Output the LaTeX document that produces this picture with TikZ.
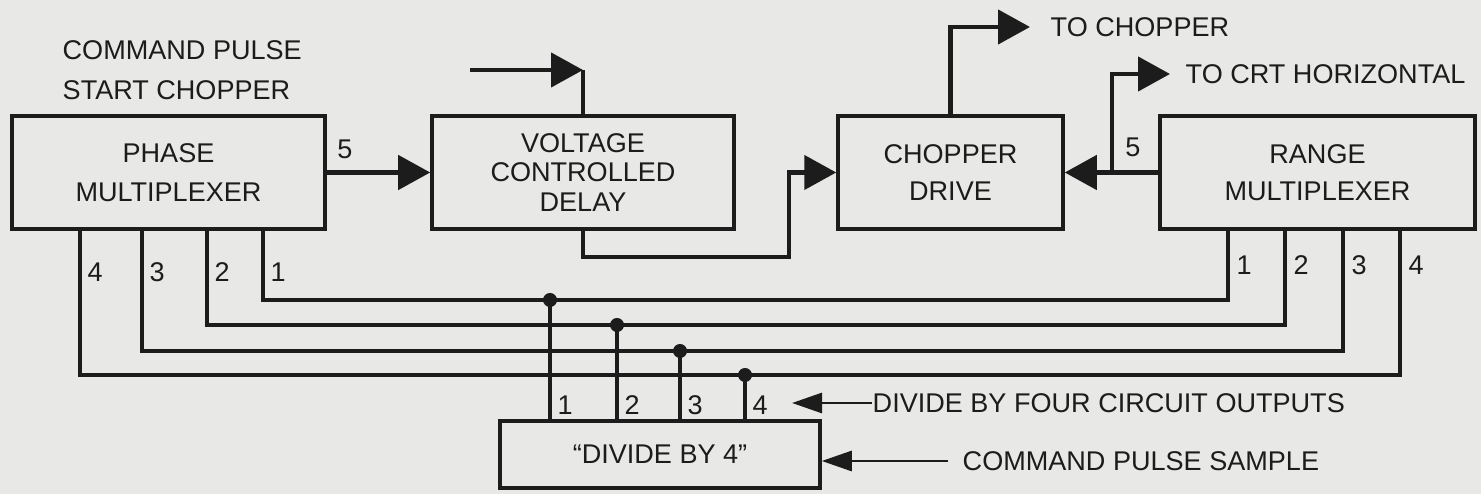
\documentclass[tikz,border=0pt]{standalone}
\usepackage{fontspec}
\setmainfont{Liberation Sans}
\usetikzlibrary{arrows.meta, positioning}

\definecolor{paper}{RGB}{232,232,230}
\definecolor{ink}{RGB}{28,28,28}

\begin{document}
\begin{tikzpicture}[
    every node/.style={font=\fontsize{7.7}{11.2}\selectfont, text=ink},
    block/.style={draw=ink, line width=1.0pt, minimum height=1.13cm, align=center, inner sep=0pt},
    wire/.style={draw=ink, line width=1.3pt},
    bigarrow/.style={wire, -{Triangle[length=0.32cm, width=0.34cm]}},
    thinarrow/.style={draw=ink, line width=0.8pt, -{Triangle[length=0.30cm, width=0.20cm]}},
    tag/.style={anchor=west, inner sep=0pt}
]
% Background
\fill[paper] (0,0) rectangle (14.81,4.94);
\useasboundingbox (0,0) rectangle (14.81,4.94);

% Blocks
\node[block, minimum width=3.13cm] (phase) at (1.685,3.215) {PHASE\\MULTIPLEXER};
\node[block, minimum width=3.02cm, font=\fontsize{7.7}{8.3}\selectfont] (vcd) at (5.83,3.215) {VOLTAGE\\CONTROLLED\\DELAY};
\node[block, minimum width=2.25cm, font=\fontsize{7.7}{10.5}\selectfont] (chop) at (9.505,3.215) {CHOPPER\\DRIVE};
\node[block, minimum width=3.15cm, font=\fontsize{7.7}{10.5}\selectfont] (range) at (13.175,3.215) {RANGE\\MULTIPLEXER};
\node[block, minimum width=3.20cm, minimum height=0.67cm] (divide) at (6.60,0.395) {“DIVIDE BY 4”};

% Top labels
\node[tag, align=left, font=\fontsize{7.7}{11.4}\selectfont] (cmdstart) at (0.62,4.24) {COMMAND PULSE\\START CHOPPER};
\node[tag] (tochop) at (10.50,4.67) {TO CHOPPER};
\node[tag] (tocrt) at (11.85,4.20) {TO CRT HORIZONTAL};
\node (fivea) at (3.45,3.45) {5};
\node (fiveb) at (11.33,3.47) {5};

% Main signal path
\draw[bigarrow] (phase.east) -- (vcd.west);
\coordinate (vcdin) at (4.70,4.24);
\draw[bigarrow] (vcdin) -- (vcdin -| vcd.north);
\draw[wire] (vcd.north) -- (vcdin -| vcd.north);
\coordinate (jog) at (7.89,2.37);
\draw[bigarrow] (vcd.south) |- (jog) |- (chop.west);
\draw[bigarrow] (chop.north) |- ([xshift=-0.20cm]tochop.west);
\draw[bigarrow] (range.west) -- (chop.east);
\coordinate (crtsplit) at (11.12,3.215);
\draw[bigarrow] (crtsplit) |- ([xshift=-0.15cm]tocrt.west);

% Bus lines 1..4
\foreach \i/\y in {1/1.94, 2/1.69, 3/1.43, 4/1.19}
    \coordinate (lv\i) at (0,\y);
\foreach \i/\p/\r/\d in {1/2.63/12.28/5.50, 2/2.07/12.85/6.17, 3/1.42/13.43/6.80, 4/0.80/14.00/7.45} {
    \coordinate (ph\i) at (phase.south -| \p,0);
    \coordinate (rg\i) at (range.south -| \r,0);
    \coordinate (dv\i) at (divide.north -| \d,0);
    \draw[wire] (ph\i) |- (lv\i -| rg\i) -- (rg\i);
    \draw[wire] (dv\i) -- (lv\i -| dv\i);
    \fill[ink] (lv\i -| dv\i) circle (0.07);
    \node[tag] (phl\i) at ([xshift=0.07cm]ph\i |- 0,2.22) {\i};
    \node[tag] (rgl\i) at ([xshift=0.08cm]rg\i |- 0,2.29) {\i};
    \node[tag] (dvl\i) at ([xshift=0.07cm]dv\i |- 0,0.89) {\i};
}

% Bottom labels
\node[tag] (dvout) at (8.72,0.91) {DIVIDE BY FOUR CIRCUIT OUTPUTS};
\draw[thinarrow] (dvout.west) -- ++(-0.80,0);
\node[tag] (cmdsmp) at (9.62,0.33) {COMMAND PULSE SAMPLE};
\draw[thinarrow] ([xshift=-0.14cm]cmdsmp.west) -- (cmdsmp.west -| divide.east);

\end{tikzpicture}
\end{document}
